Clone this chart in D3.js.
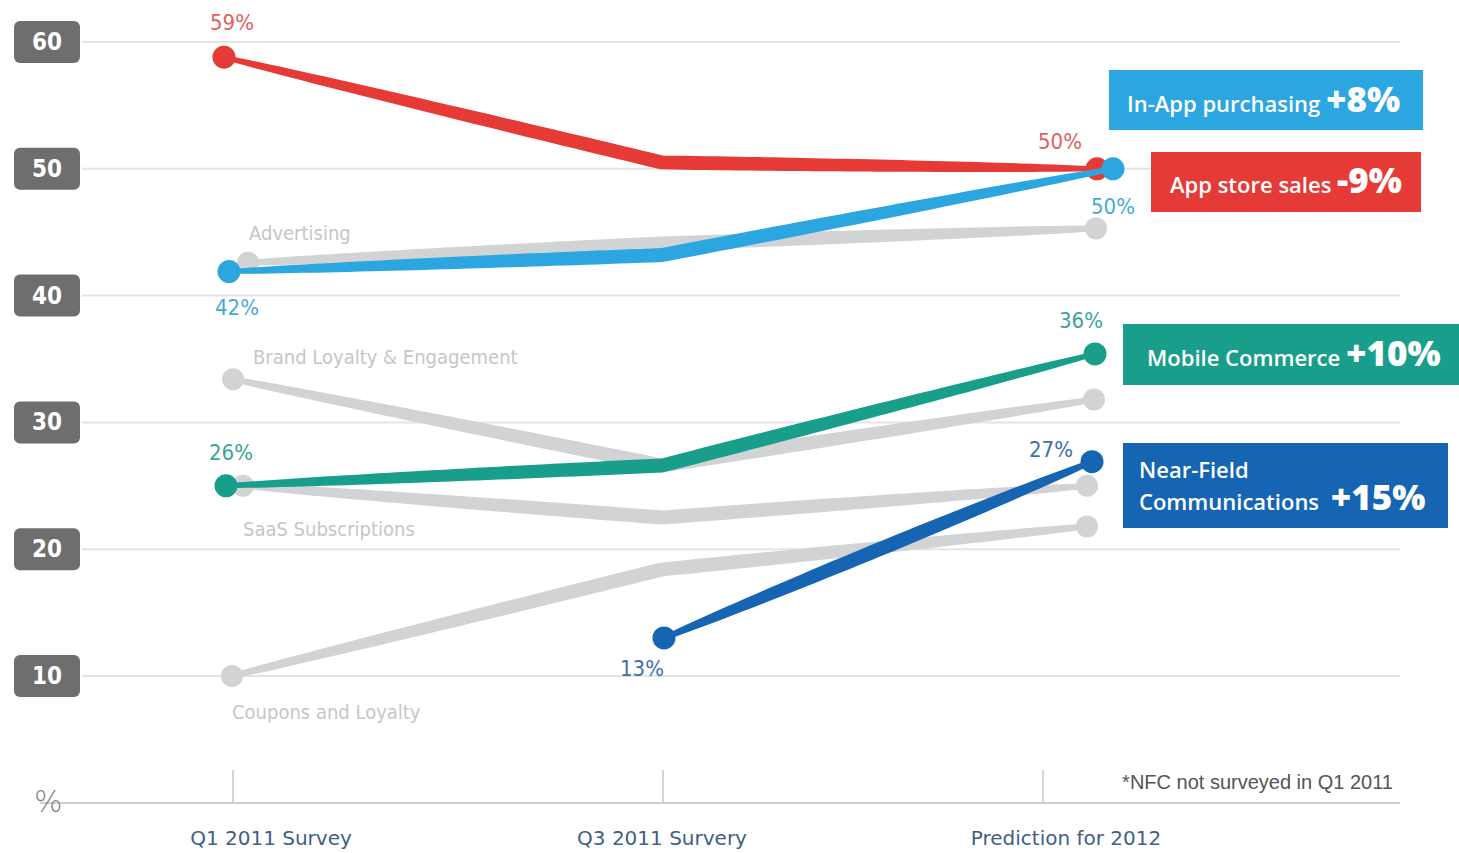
<!DOCTYPE html>
<html><head><meta charset="utf-8">
<script src="https://cdn.jsdelivr.net/npm/d3@7"></script>
<style>html,body{margin:0;padding:0;background:#fff;}svg{display:block;}</style>
</head><body>
<svg id="chart" width="1459" height="853"></svg>
<script>
// ---- data ----
const categories = ["Q1 2011 Survey", "Q3 2011 Survery", "Prediction for 2012"];
const yTicks = [10, 20, 30, 40, 50, 60];

const grayNames = ["Advertising", "Brand Loyalty & Engagement", "SaaS Subscriptions", "Coupons and Loyalty"];
const advertising = [42.6, 44.1, 45.3];
const brandLoyalty = [33.4, 26.6, 31.8];
const saasSubscriptions = [25.0, 22.5, 25.0];
const couponsLoyalty = [10.0, 18.4, 21.8];

const colorNames = ["App store sales", "In-App purchasing", "Mobile Commerce", "Near-Field Communications"];
const appStoreSales = [58.8, 50.5, 50.0];
const inAppPurchasing = [41.9, 43.2, 50.0];
const mobileCommerce = [25.0, 26.6, 35.4];
const nearField = [null, 13.0, 26.9];

const changeLabels = ["-9%", "+8%", "+10%", "+15%"];
const startLabels = ["59%", "42%", "26%", "13%"];
const endLabels = ["50%", "50%", "36%", "27%"];
const footnote = "*NFC not surveyed in Q1 2011";

// ---- setup ----
const svg = d3.select("#chart");
const x = d3.scalePoint().domain(categories).range([228, 1096]);
const y = d3.scaleLinear().domain([10, 60]).range([676, 42]);

const FONT = "'DejaVu Sans', sans-serif";
const NUMFONT = "'DejaVu Sans Condensed', 'DejaVu Sans', sans-serif";

// gridlines
svg.append("g").selectAll("line").data(yTicks).join("line")
  .attr("x1", 82).attr("x2", 1400)
  .attr("y1", d => y(d)).attr("y2", d => y(d))
  .attr("stroke", "#e4e4e4").attr("stroke-width", 2);

// y labels
const yl = svg.append("g").selectAll("g").data(yTicks).join("g")
  .attr("transform", d => `translate(14,${y(d) - 21})`);
yl.append("rect").attr("width", 66).attr("height", 42).attr("rx", 6)
  .attr("fill", "#6e6e6e");
yl.append("text").attr("x", 33).attr("y", 29).attr("text-anchor", "middle")
  .attr("fill", "#fff").attr("font-family", NUMFONT).attr("font-weight", "bold")
  .attr("font-size", 24).text(d => d);

// bottom axis
svg.append("line").attr("x1", 40).attr("x2", 1400).attr("y1", 803).attr("y2", 803)
  .attr("stroke", "#cfcfcf").attr("stroke-width", 2);
const tickOffsets = [5, 1, -53];
const labelOffsets = [43, 0, -30];
svg.append("g").selectAll("line").data(categories).join("line")
  .attr("x1", (d, i) => x(d) + tickOffsets[i]).attr("x2", (d, i) => x(d) + tickOffsets[i])
  .attr("y1", 770).attr("y2", 803).attr("stroke", "#c8c8c8").attr("stroke-width", 1.5);
svg.append("g").selectAll("text").data(categories).join("text")
  .attr("x", (d, i) => x(d) + labelOffsets[i]).attr("y", 845)
  .attr("text-anchor", "middle").attr("fill", "#3f5f86")
  .attr("font-family", FONT).attr("font-size", 20).text(d => d);
svg.append("text").attr("x", 34).attr("y", 812).attr("fill", "#888")
  .attr("font-family", FONT).attr("font-size", 30).attr("font-weight", 200).text("%");
svg.append("text").attr("x", 1393).attr("y", 789).attr("text-anchor", "end")
  .attr("fill", "#555").attr("font-family", "'Liberation Sans Narrow', 'Liberation Sans', sans-serif")
  .attr("font-size", 20).text(footnote);

// tapered ribbon generator
function ribbon(pts, hMin, hMax) {
  const segLens = [];
  let total = 0;
  for (let i = 1; i < pts.length; i++) {
    const l = Math.hypot(pts[i][0] - pts[i-1][0], pts[i][1] - pts[i-1][1]);
    segLens.push(l); total += l;
  }
  const left = [], right = [];
  let acc = 0;
  const N = 40;
  for (let i = 1; i < pts.length; i++) {
    const [x0, y0] = pts[i-1], [x1, y1] = pts[i];
    const l = segLens[i-1];
    const nx = -(y1 - y0) / l, ny = (x1 - x0) / l;
    for (let k = (i === 1 ? 0 : 1); k <= N; k++) {
      const t = k / N;
      const s = (acc + t * l) / total;
      const h = hMin + (hMax - hMin) * Math.pow(Math.sin(Math.PI * s), 0.6);
      const px = x0 + (x1 - x0) * t, py = y0 + (y1 - y0) * t;
      left.push([px + nx * h, py + ny * h]);
      right.push([px - nx * h, py - ny * h]);
    }
    acc += l;
  }
  return d3.line()(left.concat(right.reverse())) + "Z";
}

function seriesPts(vals, dx) {
  return categories.map((c, i) => vals[i] == null ? null : [x(c) + (dx ? dx[i] : 0), y(vals[i])]).filter(p => p);
}
function endPts(pts) { return [pts[0], pts[pts.length - 1]]; }

// gray series
const grayVals = [advertising, brandLoyalty, saasSubscriptions, couponsLoyalty];
const grayDx = [[20, 0, 0], [5, 0, -2], [15, 0, -9], [4, 0, -9]];
const grayLabelDx = [21, 25, 15, 4];
const grayLabelY = [240, 364, 536, 719];
const gG = svg.append("g");
grayVals.forEach((vals, i) => {
  const pts = seriesPts(vals, grayDx[i]);
  gG.append("path").attr("d", ribbon(pts, 2.5, 7)).attr("fill", "#d2d3d5");
  gG.selectAll(null).data(endPts(pts)).join("circle")
    .attr("cx", d => d[0]).attr("cy", d => d[1]).attr("r", 11).attr("fill", "#d2d3d5");
  gG.append("text").attr("x", x(categories[0]) + grayLabelDx[i]).attr("y", grayLabelY[i])
    .attr("fill", "#c6c6c6").attr("font-family", NUMFONT).attr("font-size", 20)
    .text(grayNames[i]);
});

// colored series
const colVals = [appStoreSales, inAppPurchasing, mobileCommerce, nearField];
const colors = ["#e63a36", "#2ba6e1", "#1a9e8c", "#1565b3"];
const labelColors = ["#e06060", "#4aa8d8", "#3aa597", "#3b6fb0"];
const colDx = [[-4, 0, 1], [1, 0, 17], [-2, 0, -1], [0, 2, -4]];
const cG = svg.append("g");
colVals.forEach((vals, i) => {
  const pts = seriesPts(vals, colDx[i]);
  cG.append("path").attr("d", ribbon(pts, 2, 7)).attr("fill", colors[i]);
  cG.selectAll(null).data(endPts(pts)).join("circle")
    .attr("cx", d => d[0]).attr("cy", d => d[1]).attr("r", 11.5).attr("fill", colors[i]);
});

// value labels
const startPos = [[232, 30], [237, 315], [231, 460], [642, 676]];
const endPos = [[1060, 149], [1113, 214], [1081, 328], [1051, 457]];
const vl = svg.append("g").attr("font-family", NUMFONT).attr("font-size", 22)
  .attr("text-anchor", "middle");
colVals.forEach((vals, i) => {
  vl.append("text").attr("x", startPos[i][0]).attr("y", startPos[i][1])
    .attr("fill", labelColors[i]).text(startLabels[i]);
  vl.append("text").attr("x", endPos[i][0]).attr("y", endPos[i][1])
    .attr("fill", labelColors[i]).text(endLabels[i]);
});

// legend boxes
const boxes = [
  {i: 0, x: 1151, y: 152, w: 270, h: 60, lines: ["App store sales"], tx: 1170, ty: 193},
  {i: 1, x: 1109, y: 70, w: 314, h: 60, lines: ["In-App purchasing"], tx: 1127, ty: 112},
  {i: 2, x: 1123, y: 324, w: 336, h: 61, lines: ["Mobile Commerce"], tx: 1147, ty: 366},
  {i: 3, x: 1123, y: 443, w: 325, h: 85, lines: ["Near-Field", "Communications"], tx: 1139, ty: 478}
];
const LFONT = "'Open Sans', 'DejaVu Sans', sans-serif";
const lg = svg.append("g");
boxes.forEach(b => {
  lg.append("rect").attr("x", b.x).attr("y", b.y).attr("width", b.w).attr("height", b.h)
    .attr("fill", colors[b.i]);
  b.lines.forEach((ln, k) => {
    if (k < b.lines.length - 1) {
      lg.append("text").attr("x", b.tx).attr("y", b.ty + k * 32).attr("fill", "#fff")
        .attr("font-family", LFONT).attr("font-size", 22).attr("font-weight", 600).text(ln);
    }
  });
  const t = lg.append("text").attr("x", b.tx).attr("y", b.ty + (b.lines.length - 1) * 32)
    .attr("fill", "#fff").attr("font-family", LFONT);
  t.append("tspan").attr("font-size", 22).attr("font-weight", 600)
    .text(b.lines[b.lines.length - 1] + " ");
  t.append("tspan").attr("font-size", 35).attr("font-weight", 800).attr("dx", b.i === 3 ? 6 : 0)
    .text(changeLabels[b.i]);
});
</script>
</body></html>
